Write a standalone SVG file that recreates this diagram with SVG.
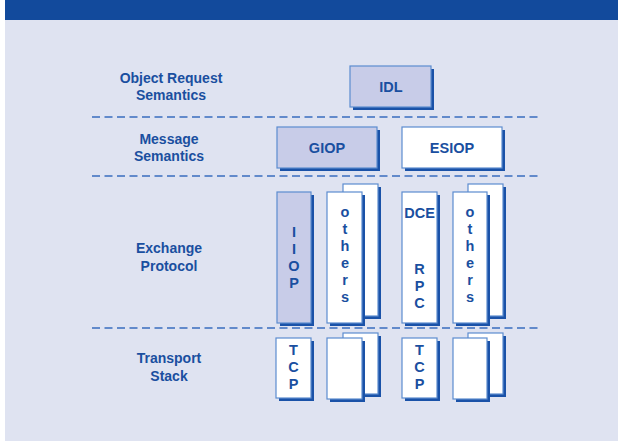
<svg xmlns="http://www.w3.org/2000/svg" width="618" height="441" viewBox="0 0 618 441">
<style>
.lbl{font-family:"Liberation Sans","DejaVu Sans",sans-serif;font-weight:bold;font-size:14px;fill:#1a4fa0;text-anchor:middle}
.bx{font-family:"Liberation Sans","DejaVu Sans",sans-serif;font-weight:bold;font-size:14.5px;fill:#1a4fa0;text-anchor:middle}
.sh{fill:#1a52a8}
.wf{fill:#ffffff;stroke:#5c8ccf;stroke-width:1.2}
.lf{fill:#c8cce8;stroke:#5c8ccf;stroke-width:1.2}
.dash{stroke:#3a6ebf;stroke-width:1.6;stroke-dasharray:8 4.5;fill:none}
</style>
<rect x="0" y="0" width="618" height="441" fill="#ffffff"/>
<rect x="5" y="0" width="613" height="20" fill="#124a9c"/>
<rect x="5" y="20" width="613" height="421" fill="#dfe3f1"/>

<g id="connectors">
<line class="dash" x1="92" y1="117" x2="540" y2="117"/>
<line class="dash" x1="92" y1="176" x2="540" y2="176"/>
<line class="dash" x1="92" y1="328" x2="540" y2="328"/>
</g>

<g id="layer-labels">
<text class="lbl" x="171" y="83">Object Request</text>
<text class="lbl" x="171" y="100">Semantics</text>
<text class="lbl" x="169" y="144">Message</text>
<text class="lbl" x="169" y="161">Semantics</text>
<text class="lbl" x="169" y="253">Exchange</text>
<text class="lbl" x="169" y="271">Protocol</text>
<text class="lbl" x="169" y="363">Transport</text>
<text class="lbl" x="169" y="381">Stack</text>
</g>

<g id="idl">
<rect class="sh" x="353" y="69" width="81" height="41"/>
<rect class="lf" x="350" y="66" width="81" height="41"/>
<text class="bx" x="391" y="92">IDL</text>
</g>

<g id="giop">
<rect class="sh" x="280" y="130" width="100" height="41"/>
<rect class="lf" x="277" y="127" width="100" height="41"/>
<text class="bx" x="327" y="153">GIOP</text>
</g>

<g id="esiop">
<rect class="sh" x="405" y="130" width="100" height="41"/>
<rect class="wf" x="402" y="127" width="100" height="41"/>
<text class="bx" x="452" y="153">ESIOP</text>
</g>

<g id="iiop">
<rect class="sh" x="280" y="195" width="34" height="131"/>
<rect class="lf" x="277" y="192" width="34" height="131"/>
<text class="bx" x="294" y="237">I</text>
<text class="bx" x="294" y="254">I</text>
<text class="bx" x="294" y="271">O</text>
<text class="bx" x="294" y="288">P</text>
</g>

<g id="others1">
<rect class="sh" x="346" y="187" width="35" height="132"/>
<rect class="wf" x="343" y="184" width="35" height="132"/>
<rect class="sh" x="330" y="195" width="35" height="131"/>
<rect class="wf" x="327" y="192" width="35" height="131"/>
<text class="bx" x="345" y="217">o</text>
<text class="bx" x="345" y="234">t</text>
<text class="bx" x="345" y="251">h</text>
<text class="bx" x="345" y="268">e</text>
<text class="bx" x="345" y="285">r</text>
<text class="bx" x="345" y="302">s</text>
</g>

<g id="dce-rpc">
<rect class="sh" x="405" y="195" width="35" height="131"/>
<rect class="wf" x="402" y="192" width="35" height="131"/>
<text class="bx" x="419.5" y="218">DCE</text>
<text class="bx" x="419.5" y="274">R</text>
<text class="bx" x="419.5" y="291">P</text>
<text class="bx" x="419.5" y="308">C</text>
</g>

<g id="others2">
<rect class="sh" x="471" y="187" width="35" height="132"/>
<rect class="wf" x="468" y="184" width="35" height="132"/>
<rect class="sh" x="456" y="195" width="34" height="131"/>
<rect class="wf" x="453" y="192" width="34" height="131"/>
<text class="bx" x="470" y="217">o</text>
<text class="bx" x="470" y="234">t</text>
<text class="bx" x="470" y="251">h</text>
<text class="bx" x="470" y="268">e</text>
<text class="bx" x="470" y="285">r</text>
<text class="bx" x="470" y="302">s</text>
</g>

<g id="tcp1">
<rect class="sh" x="279" y="341" width="35" height="60"/>
<rect class="wf" x="276" y="338" width="35" height="60"/>
<text class="bx" x="293.5" y="355">T</text>
<text class="bx" x="293.5" y="372">C</text>
<text class="bx" x="293.5" y="389">P</text>
</g>

<g id="stack1">
<rect class="sh" x="346" y="336" width="35" height="61"/>
<rect class="wf" x="343" y="333" width="35" height="61"/>
<rect class="sh" x="330" y="341" width="35" height="61"/>
<rect class="wf" x="327" y="338" width="35" height="61"/>
</g>

<g id="tcp2">
<rect class="sh" x="405" y="341" width="35" height="60"/>
<rect class="wf" x="402" y="338" width="35" height="60"/>
<text class="bx" x="419.5" y="355">T</text>
<text class="bx" x="419.5" y="372">C</text>
<text class="bx" x="419.5" y="389">P</text>
</g>

<g id="stack2">
<rect class="sh" x="471" y="336" width="35" height="61"/>
<rect class="wf" x="468" y="333" width="35" height="61"/>
<rect class="sh" x="456" y="341" width="34" height="61"/>
<rect class="wf" x="453" y="338" width="34" height="61"/>
</g>
</svg>
